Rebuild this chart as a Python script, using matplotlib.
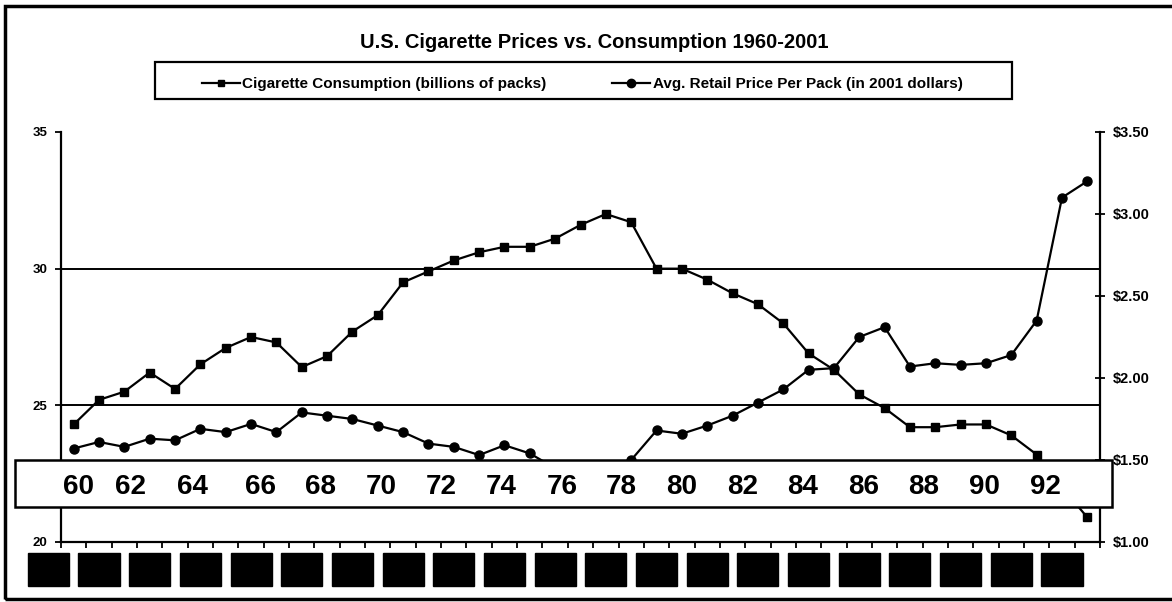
import matplotlib
matplotlib.use("Agg")
import matplotlib.pyplot as plt
import matplotlib.transforms as mtransforms
from matplotlib.patches import Rectangle
from matplotlib.lines import Line2D

plt.rcParams["font.family"] = ["Liberation Sans", "DejaVu Sans"]

# Data (1999 consumption and 1979-81 prices sit under the label strip)
years = list(range(1960, 2001))
consumption = [24.3, 25.2, 25.5, 26.2, 25.6, 26.5, 27.1, 27.5, 27.3, 26.4,
               26.8, 27.7, 28.3, 29.5, 29.9, 30.3, 30.6, 30.8, 30.8, 31.1,
               31.6, 32.0, 31.7, 30.0, 30.0, 29.6, 29.1, 28.7, 28.0, 26.9,
               26.3, 25.4, 24.9, 24.2, 24.2, 24.3, 24.3, 23.9, 23.2, 22.0,
               20.9]
price = [1.57, 1.61, 1.58, 1.63, 1.62, 1.69, 1.67, 1.72, 1.67, 1.79,
         1.77, 1.75, 1.71, 1.67, 1.60, 1.58, 1.53, 1.59, 1.54, 1.45,
         1.40, 1.43, 1.50, 1.68, 1.66, 1.71, 1.77, 1.85, 1.93, 2.05,
         2.06, 2.25, 2.31, 2.07, 2.09, 2.08, 2.09, 2.14, 2.35, 3.10,
         3.20]

left_ticks = [20, 25, 30, 35]
right_ticks = [1.00, 1.50, 2.00, 2.50, 3.00, 3.50]
right_labels = ["$1.00", "$1.50", "$2.00", "$2.50", "$3.00", "$3.50"]
grid_values = [25, 30]

# years whose original labels are blacked out under the axis
masked_years = list(range(1960, 2001, 2))
# hand-pasted label strip over the plot
strip_labels = ["60", "62", "64", "66", "68", "70", "72", "74", "76",
                "78", "80", "82", "84", "86", "88", "90", "92"]
strip_label_x = [79, 131, 192, 261, 321, 381, 441, 501, 562,
                 621, 682, 743, 803, 864, 924, 984, 1045]

TITLE = "U.S. Cigarette Prices vs. Consumption 1960-2001"
LABEL_CONS = "Cigarette Consumption (billions of packs)"
LABEL_PRICE = "Avg. Retail Price Per Pack (in 2001 dollars)"

W, H = 1172, 602


def fx(x):
    return x / W


def fy(y):
    return 1 - y / H


fig = plt.figure(figsize=(W / 100, H / 100), dpi=100)
fig.patch.set_facecolor("white")

ax = fig.add_axes([fx(61), fy(542), (1100 - 61) / W, (542 - 132) / H])
ax2 = ax.twinx()

ax.plot(years, consumption, color="black", lw=1.6, marker="s", ms=6,
        zorder=3, clip_on=False)
ax2.plot(years, price, color="black", lw=1.6, marker="o", ms=6.5,
         zorder=3, clip_on=False)

for g in grid_values:
    ax.axhline(g, color="black", lw=1.4, zorder=1)

ax.set_xlim(1959.5, 2000.5)
ax.set_ylim(20, 35)
ax2.set_ylim(1.0, 3.5)

ax.set_xticks([y - 0.5 for y in years] + [years[-1] + 0.5])
ax.set_xticklabels([])
ax.tick_params(axis="x", direction="out", length=4, width=1.3, color="black")
ax.set_yticks(left_ticks)
ax.set_yticklabels([str(t) for t in left_ticks], fontsize=9.5, fontweight="bold")
ax.tick_params(axis="y", direction="out", length=4, width=1.3, pad=6)
ax2.set_yticks(right_ticks)
ax2.set_yticklabels(right_labels, fontsize=10.5, fontweight="bold")
ax2.tick_params(axis="y", direction="inout", length=7, width=1.3, pad=6)

for a in (ax, ax2):
    a.spines["top"].set_visible(False)
    for s in ("left", "right", "bottom"):
        a.spines[s].set_linewidth(1.6)
ax.spines["right"].set_visible(False)
ax2.spines["left"].set_visible(False)
ax2.spines["bottom"].set_visible(False)
ax.patch.set_alpha(0)

# blacked-out year labels under the axis
blend = mtransforms.blended_transform_factory(ax.transData, fig.transFigure)
for yr in masked_years:
    ax.add_patch(Rectangle((yr - 1.81, fy(586)), 1.62, (586 - 553) / H,
                           transform=blend, facecolor="black",
                           edgecolor="black", clip_on=False))

fig.text(fx(594), fy(42), TITLE, ha="center", va="center",
         fontsize=14.5, fontweight="bold")

# legend: box drawn separately so the entries can sit inset like the original
fig.add_artist(Rectangle((fx(155), fy(99)), 857 / W, 37 / H,
                         transform=fig.transFigure, fill=False,
                         edgecolor="black", lw=1.6))
handles = [Line2D([], [], color="black", lw=1.6, marker="s", ms=5),
           Line2D([], [], color="black", lw=1.6, marker="o", ms=6)]
leg = fig.legend(handles, [LABEL_CONS, LABEL_PRICE], loc="center",
                 bbox_to_anchor=(fx(582), fy(84)), ncol=2, frameon=False,
                 handlelength=2.5, handletextpad=0.15, columnspacing=4.3,
                 borderpad=0, borderaxespad=0,
                 prop={"size": 11, "weight": "bold"})

# white label strip pasted over the lower part of the chart
fig.add_artist(Rectangle((fx(15), fy(507)), (1112 - 15) / W, (507 - 460) / H,
                         transform=fig.transFigure, facecolor="white",
                         edgecolor="black", lw=1.8, zorder=5))
for lab, x in zip(strip_labels, strip_label_x):
    fig.text(fx(x), fy(487), lab, ha="center", va="center", fontsize=20,
             fontweight="bold", zorder=6)

# scan frame
fig.add_artist(Rectangle((fx(5), fy(599)), 1.2, (599 - 6) / H,
                         transform=fig.transFigure, fill=False,
                         edgecolor="black", lw=2.5, zorder=7))

fig.savefig("out.png", dpi=100)
